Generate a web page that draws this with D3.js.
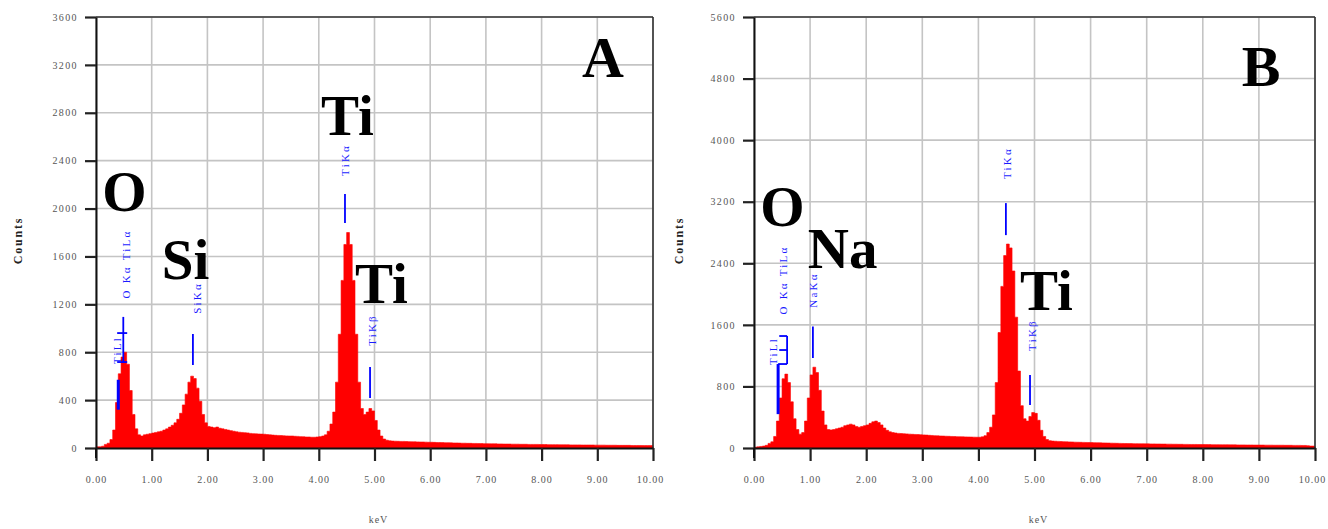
<!DOCTYPE html>
<html><head><meta charset="utf-8">
<script src="https://cdn.jsdelivr.net/npm/d3@7"></script>
<style>body{margin:0;background:#fff}</style>
</head><body><svg id="c" width="1328" height="529"></svg>
<script>
// ---------------- DATA ----------------
const binWidth = 0.05; // keV per channel
const xTicks = [0,1,2,3,4,5,6,7,8,9,10];
const xTickLabels = ["0.00","1.00","2.00","3.00","4.00","5.00","6.00","7.00","8.00","9.00","10.00"];
const yTicksA = [0,400,800,1200,1600,2000,2400,2800,3200,3600];
const yTicksB = [0,800,1600,2400,3200,4000,4800,5600];

// Spectrum A counts, channels of 0.05 keV from 0.00 to 10.00 keV
const countsA = [
  10,10,15,30,40,70,150,380,620,760,
  800,700,480,280,160,110,100,110,115,120,
  125,130,135,140,150,160,175,190,210,240,
  290,360,450,550,600,580,500,390,280,210,
  180,175,170,175,165,160,155,150,145,140,
  135,132,130,128,126,122,120,118,117,116,
  115,112,110,108,106,105,104,102,101,100,
  100,98,97,95,94,92,92,90,90,92,
  95,100,110,140,200,300,550,950,1400,1700,
  1800,1700,1400,950,550,330,280,300,330,310,
  230,150,100,75,65,60,58,57,56,55,
  55,54,53,52,52,51,50,50,49,48,
  48,47,46,46,45,44,44,43,42,42,
  41,40,40,39,39,38,38,37,37,36,
  36,35,35,35,34,34,33,33,33,32,
  32,32,31,31,31,30,30,30,30,29,
  29,29,28,28,28,28,27,27,27,27,
  26,26,26,26,25,25,25,25,25,24,
  24,24,24,23,23,23,23,22,22,22,
  22,22,21,21,21,21,20,20,20,20
];
// Spectrum B counts
const countsB = [
  10,15,20,25,35,60,80,150,350,650,
  900,960,850,600,380,240,180,200,350,650,
  950,1050,980,750,480,300,240,235,240,250,
  260,270,290,300,310,300,280,270,280,290,
  300,320,340,350,330,300,260,230,210,200,
  195,190,188,185,183,180,178,176,175,172,
  170,168,165,163,160,158,156,155,153,152,
  150,149,147,146,145,144,143,142,141,140,
  140,145,160,200,270,430,850,1500,2100,2500,
  2650,2600,2300,1700,1000,550,380,350,410,460,
  450,360,230,150,110,95,90,88,86,84,
  82,80,79,78,76,75,74,73,72,71,
  70,69,68,67,66,65,64,63,62,61,
  60,59,58,57,57,56,56,55,55,54,
  54,53,53,52,52,51,51,50,50,49,
  49,48,48,47,47,46,46,46,45,45,
  45,44,44,43,43,43,42,42,42,41,
  41,41,40,40,40,39,39,39,38,38,
  38,38,37,37,37,36,36,36,36,35,
  35,35,34,34,34,33,33,30,25,25
];

// Element labels: [text, keV (left edge), counts (baseline)]
const elementsA = [["O",0.11,1980],["Si",1.18,1412],["Ti",4.04,2615],["Ti",4.65,1211]];
const elementsB = [["O",0.11,2885],["Na",0.96,2339],["Ti",4.74,1793]];
const panelLetters = ["A","B"];
const panelLetterPos = [[9.10,3100],[9.04,4704]];

// KLM marker lines: [keV, countLow, countHigh, thick]
const markerLinesA = [[0.40,320,570,1],[0.49,710,1095,0],[1.74,693,952,0],[4.47,1880,2122,0],[4.92,418,677,0]];
const markerBarsA = [[0.38,0.56,960],[0.38,0.56,718]]; // [keV1,keV2,count]
const markerLabelsA = [["TiLl",0.37,818],["O K\u03b1  TiL\u03b1",0.53,1537],["SiK\u03b1",1.81,1253],["TiK\u03b1",4.47,2406],["TiK\u03b2",4.96,986]];

const markerLinesB = [[0.43,440,1091,1],[0.59,1091,1455,0],[1.05,1170,1580,0],[4.49,2766,3182,0],[4.92,559,949,0]];
const markerBarsB = [[0.45,0.59,1455],[0.45,0.59,1273],[0.43,0.59,1091]];
const markerLabelsB = [["TiLl",0.34,1260],["O K\u03b1  TiL\u03b1",0.52,2183],["NaK\u03b1",1.05,2053],["TiK\u03b1",4.51,3703],["TiK\u03b2",4.96,1468]];

const yTitle = "Counts";
const xTitle = "keV";

// ---------------- DRAW ----------------
const svg = d3.select("#c");
const panels = [
  {x0:96, x1:653, yMax:3600, yTicks:yTicksA, counts:countsA, elements:elementsA, letter:panelLetters[0], letterPos:panelLetterPos[0],
   lines:markerLinesA, bars:markerBarsA, labels:markerLabelsA, titleX:22},
  {x0:754, x1:1315, yMax:5600, yTicks:yTicksB, counts:countsB, elements:elementsB, letter:panelLetters[1], letterPos:panelLetterPos[1],
   lines:markerLinesB, bars:markerBarsB, labels:markerLabelsB, titleX:683}
];
const plotTop = 17, plotBottom = 448;

panels.forEach(p => {
  const x = d3.scaleLinear().domain([0,10]).range([p.x0,p.x1]);
  const y = d3.scaleLinear().domain([0,p.yMax]).range([plotBottom,plotTop]);
  const g = svg.append("g");

  // grid
  g.append("g").selectAll("line").data(xTicks).join("line")
    .attr("x1",d=>x(d)).attr("x2",d=>x(d)).attr("y1",plotTop).attr("y2",plotBottom)
    .attr("stroke","#c4c4c4").attr("stroke-width",1.6);
  g.append("g").selectAll("line").data(p.yTicks).join("line")
    .attr("x1",p.x0).attr("x2",p.x1).attr("y1",d=>y(d)).attr("y2",d=>y(d))
    .attr("stroke","#c4c4c4").attr("stroke-width",1.6);

  // spectrum
  const pts = p.counts.map((c,i)=>[i*binWidth,c]);
  pts.push([10, p.counts[p.counts.length-1]]);
  const area = d3.area().curve(d3.curveStepAfter)
    .x(d=>x(d[0])).y0(y(0)).y1(d=>y(d[1]));
  g.append("path").datum(pts).attr("d",area).attr("fill","#ff0000").attr("stroke","#ff0000").attr("stroke-width",0.6);

  // frame
  g.append("line").attr("x1",p.x0).attr("x2",p.x1).attr("y1",plotTop).attr("y2",plotTop).attr("stroke","#333").attr("stroke-width",1.6);
  g.append("line").attr("x1",p.x1).attr("x2",p.x1).attr("y1",plotTop).attr("y2",plotBottom).attr("stroke","#333").attr("stroke-width",1.6);

  // axes
  const xAxis = d3.axisBottom(x).tickValues(xTicks).tickFormat((d,i)=>xTickLabels[i]).tickSize(13).tickSizeOuter(0);
  const gx = g.append("g").attr("transform",`translate(0,${plotBottom})`).call(xAxis);
  gx.select(".domain").attr("stroke","#111").attr("stroke-width",2);
  gx.selectAll(".tick line").attr("stroke","#222").attr("stroke-width",2.2);
  gx.selectAll(".tick text").attr("dy","1.9em").attr("font-family","Liberation Serif").attr("font-size",10)
    .attr("letter-spacing",1).attr("fill","#555")
    .attr("dx",(d,i)=> i===xTicks.length-1 ? -3 : 0);

  const yAxis = d3.axisLeft(y).tickValues(p.yTicks).tickFormat(d3.format("d")).tickSize(11).tickSizeOuter(0).tickPadding(7);
  const gy = g.append("g").attr("transform",`translate(${p.x0},0)`).call(yAxis);
  gy.select(".domain").attr("stroke","#111").attr("stroke-width",2);
  gy.selectAll(".tick line").attr("stroke","#222").attr("stroke-width",2.2);
  gy.selectAll(".tick text").attr("font-family","Liberation Serif").attr("font-size",10)
    .attr("letter-spacing",1.4).attr("fill","#555");
  g.append("line").attr("x1",p.x0).attr("x2",p.x0).attr("y1",plotBottom).attr("y2",plotBottom+10).attr("stroke","#111").attr("stroke-width",2);

  // titles
  g.append("text").attr("transform",`translate(${p.titleX},${(plotTop+plotBottom)/2+8}) rotate(-90)`)
    .attr("text-anchor","middle").attr("font-family","Liberation Serif").attr("font-weight","bold")
    .attr("font-size",12).attr("letter-spacing",1.8).attr("fill","#222").text(yTitle);
  g.append("text").attr("x",(p.x0+p.x1)/2+4).attr("y",523).attr("text-anchor","middle")
    .attr("font-family","Liberation Serif").attr("font-size",10).attr("letter-spacing",1).attr("fill","#555").text(xTitle);

  // KLM markers
  g.append("g").selectAll("line").data(p.lines).join("line")
    .attr("x1",d=>x(d[0])).attr("x2",d=>x(d[0])).attr("y1",d=>y(d[1])).attr("y2",d=>y(d[2]))
    .attr("stroke","#0000ff").attr("stroke-width",d=>d[3]?3:1.8);
  g.append("g").selectAll("line").data(p.bars).join("line")
    .attr("x1",d=>x(d[0])).attr("x2",d=>x(d[1])).attr("y1",d=>y(d[2])).attr("y2",d=>y(d[2]))
    .attr("stroke","#0000ff").attr("stroke-width",1.8);
  g.append("g").selectAll("text").data(p.labels).join("text")
    .attr("transform",d=>`translate(${x(d[1])},${y(d[2])}) rotate(-90)`)
    .attr("text-anchor","middle").attr("dominant-baseline","central")
    .attr("font-family","Liberation Serif").attr("font-size",11).attr("letter-spacing",2.2)
    .attr("fill","#1a1aff").text(d=>d[0]);

  // element labels
  g.append("g").selectAll("text").data(p.elements).join("text")
    .attr("x",d=>x(d[1])).attr("y",d=>y(d[2]))
    .attr("font-family","Liberation Serif").attr("font-weight","bold").attr("font-size",57)
    .attr("fill","#000").text(d=>d[0]);
  g.append("text").attr("x",x(p.letterPos[0])).attr("y",y(p.letterPos[1])).attr("text-anchor","middle")
    .attr("font-family","Liberation Serif").attr("font-weight","bold").attr("font-size",58)
    .attr("fill","#000").text(p.letter);
});
</script></body></html>
